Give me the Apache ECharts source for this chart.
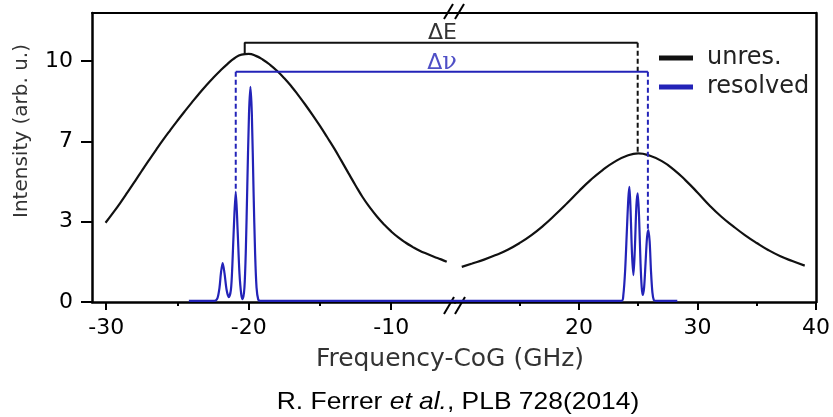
<!DOCTYPE html>
<html>
<head>
<meta charset="utf-8">
<script src="https://cdn.jsdelivr.net/npm/echarts@6/dist/echarts.min.js"></script>
<style>
  html, body { margin: 0; padding: 0; background: #fff; }
  #chart-container { width: 833px; height: 417px; }
</style>
</head>
<body>
<div id="chart-container"></div>
<script>
// unresolved spectrum (black), left and right of the axis break
var unresLeft = [
  [-30.05, 3.29], [-29.5, 3.72], [-29.0, 4.13], [-28.5, 4.56], [-28.0, 5.0], [-27.5, 5.45],
  [-27.0, 5.89], [-26.5, 6.32], [-26.0, 6.74], [-25.5, 7.14], [-25.0, 7.53], [-24.5, 7.91],
  [-24.0, 8.28], [-23.5, 8.64], [-23.0, 8.98], [-22.5, 9.3], [-22.0, 9.6], [-21.5, 9.88],
  [-21.0, 10.12], [-20.5, 10.27], [-20.0, 10.3], [-19.5, 10.22], [-19.0, 10.06],
  [-18.5, 9.85], [-18.0, 9.59], [-17.5, 9.29], [-17.0, 8.95], [-16.5, 8.57], [-16.0, 8.17],
  [-15.5, 7.75], [-15.0, 7.31], [-14.5, 6.85], [-14.0, 6.38], [-13.5, 5.87], [-13.0, 5.35],
  [-12.5, 4.84], [-12.0, 4.35], [-11.5, 3.93], [-11.0, 3.55], [-10.5, 3.22], [-10.0, 2.93],
  [-9.5, 2.68], [-9.0, 2.47], [-8.5, 2.29], [-8.0, 2.13], [-7.5, 2.0], [-7.0, 1.88],
  [-6.5, 1.77], [-6.1, 1.67]
];
var unresRight = [
  [10.12, 1.46], [11.0, 1.6], [12.0, 1.76], [13.0, 1.95], [14.0, 2.17], [15.0, 2.45],
  [16.0, 2.78], [17.0, 3.17], [18.0, 3.62], [19.0, 4.1], [20.0, 4.6], [21.0, 5.07],
  [22.0, 5.48], [23.0, 5.82], [24.0, 6.06], [25.0, 6.17], [26.0, 6.07], [27.0, 5.85],
  [28.0, 5.5], [29.0, 5.05], [30.0, 4.55], [31.0, 4.02], [32.0, 3.55], [33.0, 3.15],
  [34.0, 2.78], [35.0, 2.45], [36.0, 2.15], [37.0, 1.9], [38.0, 1.7], [39.05, 1.51]
];
// resolved hfs spectrum (blue)
var resolvedLeft = [
  [-24.2, 0.05], [-22.4, 0.05], [-22.2, 0.15], [-22.05, 0.6], [-21.95, 1.2], [-21.83, 1.62],
  [-21.7, 1.2], [-21.55, 0.5], [-21.4, 0.2], [-21.25, 0.5], [-21.15, 1.5], [-21.05, 3.0],
  [-20.91, 4.58], [-20.78, 3.0], [-20.65, 1.2], [-20.52, 0.3], [-20.42, 0.12], [-20.3, 0.6],
  [-20.2, 2.2], [-20.1, 4.8], [-19.98, 7.8], [-19.88, 8.93], [-19.78, 7.8], [-19.66, 4.6],
  [-19.55, 2.0], [-19.45, 0.6], [-19.33, 0.1], [-19.2, 0.05], [-5.52, 0.05]
];
var resolvedRight = [
  [9.55, 0.05], [23.6, 0.05], [23.75, 0.3], [23.9, 1.3], [24.05, 3.0], [24.17, 4.3],
  [24.26, 4.78], [24.36, 3.8], [24.48, 2.0], [24.6, 1.12], [24.72, 2.2], [24.85, 4.0],
  [24.96, 4.51], [25.07, 3.6], [25.2, 1.6], [25.3, 0.6], [25.38, 0.29], [25.5, 0.6],
  [25.62, 1.6], [25.75, 2.7], [25.86, 2.99], [25.97, 2.5], [26.08, 1.3], [26.2, 0.4],
  [26.32, 0.08], [26.5, 0.05], [28.3, 0.05]
];

var xTicksLeft = [-30, -20, -10];
var xMinorLeft = [-25, -15];
var xTicksRight = [20, 30, 40];
var xMinorRight = [15, 25, 35];
var yTicks = [0, 10 / 3, 20 / 3, 10];

var xRangeLeft = [-31, -5.52];
var xRangeRight = [9.55, 40];

// brackets: [x left, y left peak, x right, y right peak, level]
var deltaE = [-20.28, 10.3, 24.96, 6.17, 10.76];
var deltaNu = [-20.91, 4.58, 25.82, 2.99, 9.56];
var labelE = [-6.4, 11.16];
var labelNu = [-6.43, 9.92];

var BLACK = '#111111';
var BLUE = '#2323b8';
var FONT = 'DejaVu Sans';

var dom = document.getElementById('chart-container');
var myChart = echarts.init(dom, null, { renderer: 'canvas' });
var option;

function bottomAxis(grid, range, ticks) {
  return {
    type: 'value', gridIndex: grid, position: 'bottom', min: range[0], max: range[1],
    axisLine: { show: true, onZero: false, lineStyle: { color: '#000', width: 2.5 } },
    axisTick: { show: true, customValues: ticks, length: 8, lineStyle: { color: '#000', width: 2 } },
    axisLabel: { customValues: ticks, margin: 15, fontSize: 22, fontFamily: FONT, color: '#000' },
    splitLine: { show: false }
  };
}
function minorAxis(grid, range, ticks) {
  return {
    type: 'value', gridIndex: grid, position: 'bottom', min: range[0], max: range[1],
    axisLine: { show: false, onZero: false },
    axisTick: { show: true, customValues: ticks, length: 4, lineStyle: { color: '#000', width: 2 } },
    axisLabel: { show: false },
    splitLine: { show: false }
  };
}
function topAxis(grid, range) {
  return {
    type: 'value', gridIndex: grid, position: 'top', min: range[0], max: range[1],
    axisLine: { show: true, onZero: false, lineStyle: { color: '#000', width: 2 } },
    axisTick: { show: false }, axisLabel: { show: false }, splitLine: { show: false }
  };
}
function lineSeries(name, xi, yi, data, color, dashed, smooth) {
  return {
    name: name, type: 'line', xAxisIndex: xi, yAxisIndex: yi, data: data,
    symbol: 'none', smooth: smooth || false,
    itemStyle: { color: color },
    lineStyle: { color: color, width: dashed === null ? 2.2 : 2, type: dashed ? [5, 3] : 'solid' },
    z: 3
  };
}

option = {
  animation: false,
  backgroundColor: '#fff',
  grid: [
    { left: 92, right: 378, top: 13, bottom: 115 },
    { left: 455, right: 16, top: 13, bottom: 115 }
  ],
  xAxis: [
    bottomAxis(0, xRangeLeft, xTicksLeft),
    minorAxis(0, xRangeLeft, xMinorLeft),
    topAxis(0, xRangeLeft),
    bottomAxis(1, xRangeRight, xTicksRight),
    minorAxis(1, xRangeRight, xMinorRight),
    topAxis(1, xRangeRight)
  ],
  yAxis: [
    {
      type: 'value', gridIndex: 0, position: 'left', min: 0, max: 12,
      axisLine: { show: true, onZero: false, lineStyle: { color: '#000', width: 2.5 } },
      axisTick: { show: true, customValues: yTicks, length: 11, lineStyle: { color: '#000', width: 2 } },
      axisLabel: {
        customValues: yTicks, margin: 19, fontSize: 22, fontFamily: FONT, color: '#000',
        formatter: function (v) { return String(Math.round(v)); }
      },
      splitLine: { show: false }
    },
    {
      type: 'value', gridIndex: 1, position: 'right', min: 0, max: 12,
      axisLine: { show: true, onZero: false, lineStyle: { color: '#000', width: 2.5 } },
      axisTick: { show: false }, axisLabel: { show: false }, splitLine: { show: false }
    }
  ],
  legend: {
    data: ['unres.', 'resolved'],
    orient: 'vertical',
    left: 659,
    top: 46,
    padding: 0,
    icon: 'rect',
    itemWidth: 34,
    itemHeight: 5,
    itemGap: 5,
    textStyle: { fontSize: 24, fontFamily: FONT, color: '#222', lineHeight: 23, padding: [0, 0, 0, 9] }
  },
  series: [
    lineSeries('unres.', 0, 0, unresLeft, BLACK, null, 0.5),
    lineSeries('unres.', 3, 1, unresRight, BLACK, null, 0.5),
    lineSeries('resolved', 0, 0, resolvedLeft, BLUE, null, 0.3),
    lineSeries('resolved', 3, 1, resolvedRight, BLUE, null, 0.3),
    // Delta E bracket
    lineSeries('dE', 0, 0, [[deltaE[0], deltaE[1]], [deltaE[0], deltaE[4]], [xRangeLeft[1], deltaE[4]]], BLACK, false),
    lineSeries('dE', 3, 1, [[xRangeRight[0], deltaE[4]], [deltaE[2], deltaE[4]]], BLACK, false),
    lineSeries('dE', 3, 1, [[deltaE[2], deltaE[4]], [deltaE[2], deltaE[3]]], BLACK, true),
    // Delta nu bracket
    lineSeries('dNu', 0, 0, [[deltaNu[0], deltaNu[4]], [xRangeLeft[1], deltaNu[4]]], BLUE, false),
    lineSeries('dNu', 0, 0, [[deltaNu[0], deltaNu[4]], [deltaNu[0], deltaNu[1]]], BLUE, true),
    lineSeries('dNu', 3, 1, [[xRangeRight[0], deltaNu[4]], [deltaNu[2], deltaNu[4]]], BLUE, false),
    lineSeries('dNu', 3, 1, [[deltaNu[2], deltaNu[4]], [deltaNu[2], deltaNu[3]]], BLUE, true),
    {
      type: 'scatter', xAxisIndex: 0, yAxisIndex: 0, symbolSize: 0, silent: true,
      data: [
        { value: labelE, label: { formatter: '\u0394E', color: '#000' } },
        { value: labelNu, label: { formatter: '{a|\u0394}{b|\u03bd}', color: BLUE } }
      ],
      label: {
        show: true, position: 'inside', fontSize: 22, fontFamily: FONT,
        rich: {
          a: { fontSize: 22, fontFamily: FONT, color: BLUE },
          b: { fontSize: 24, fontFamily: 'DejaVu Serif', color: BLUE }
        }
      }
    }
  ],
  graphic: [
    // axis break marks
    { type: 'line', shape: { x1: 444, y1: 19, x2: 453, y2: 4 }, style: { stroke: '#000', lineWidth: 2 } },
    { type: 'line', shape: { x1: 455, y1: 19, x2: 464, y2: 4 }, style: { stroke: '#000', lineWidth: 2 } },
    { type: 'line', shape: { x1: 444, y1: 314, x2: 454, y2: 297 }, style: { stroke: '#000', lineWidth: 2 } },
    { type: 'line', shape: { x1: 455, y1: 314, x2: 465, y2: 297 }, style: { stroke: '#000', lineWidth: 2 } },
    {
      type: 'text', x: 22, y: 131, rotation: Math.PI / 2,
      style: { text: 'Intensity (arb. u.)', font: '20px "DejaVu Sans"', fill: '#333', textAlign: 'center', textVerticalAlign: 'middle' }
    },
    {
      type: 'text', x: 450, y: 360, scaleX: 1.04,
      style: { text: 'Frequency-CoG (GHz)', font: '24px "DejaVu Sans"', fill: '#333', textAlign: 'center', textVerticalAlign: 'middle' }
    },
    {
      type: 'text', x: 458, y: 402, scaleX: 1.1,
      style: {
        text: '{n|R. Ferrer }{i|et al.}{n|, PLB 728(2014)}',
        textAlign: 'center', textVerticalAlign: 'middle',
        rich: {
          n: { font: '24px "Liberation Sans"', fill: '#000' },
          i: { font: 'italic 24px "Liberation Sans"', fill: '#000' }
        }
      }
    }
  ]
};

if (option && typeof option === 'object') {
  myChart.setOption(option);
}
window.addEventListener('resize', myChart.resize);
</script>
</body>
</html>
